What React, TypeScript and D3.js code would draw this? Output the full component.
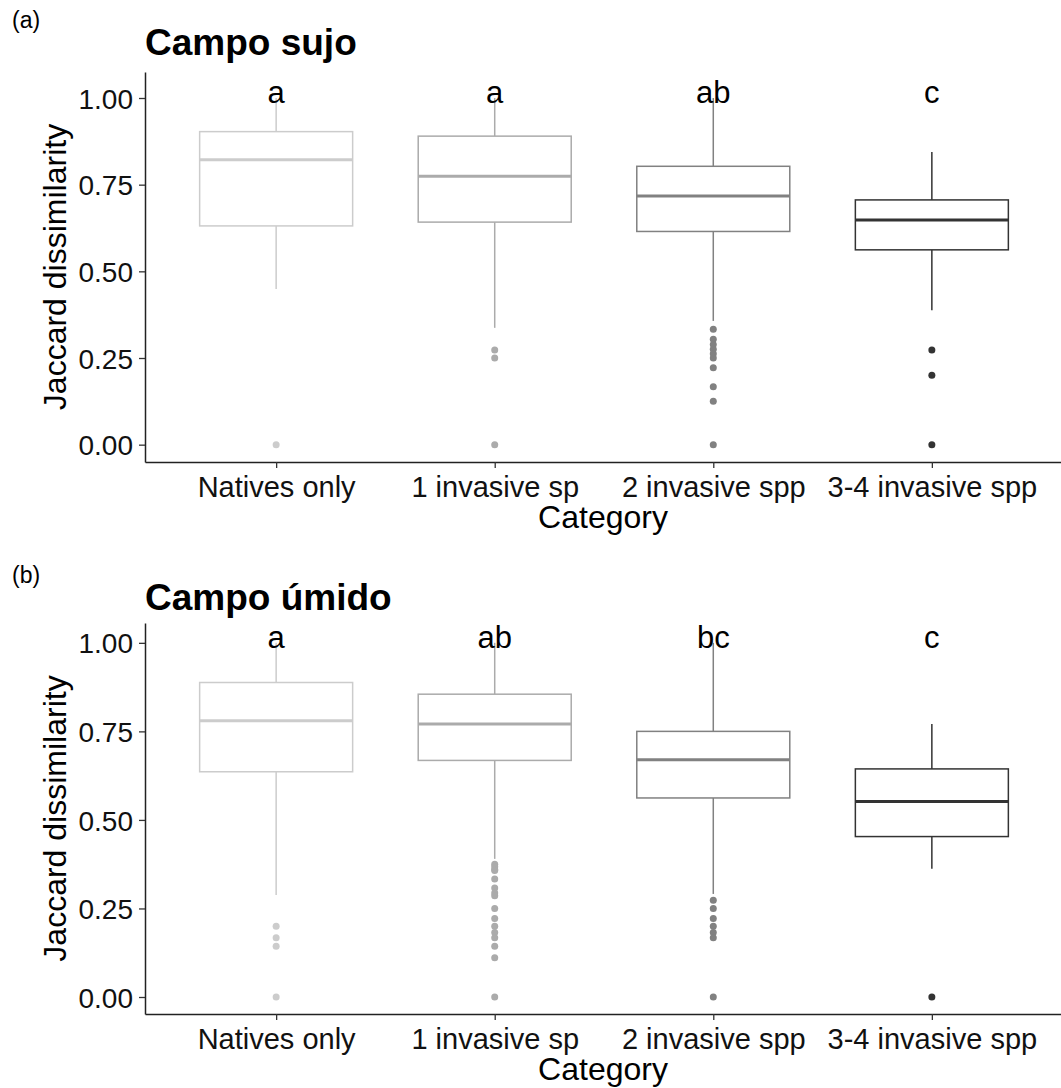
import React, { useEffect, useRef } from "react";
import * as d3 from "d3";

// categories and letters
const categories = ["Natives only", "1 invasive sp", "2 invasive spp", "3-4 invasive spp"];
const greys = ["#cccccc", "#ababab", "#818181", "#333333"];
const yTicks = [0, 0.25, 0.5, 0.75, 1];

// Campo sujo
const sujoLetters = ["a", "a", "ab", "c"];
const sujoLower = [0.449, 0.337, 0.357, 0.388];
const sujoQ1 = [0.631, 0.642, 0.615, 0.562];
const sujoMedian = [0.822, 0.774, 0.717, 0.648];
const sujoQ3 = [0.903, 0.89, 0.803, 0.706];
const sujoUpper = [1.0, 1.0, 1.0, 0.844];
const sujoOutliers = [
  [0],
  [0.273, 0.25, 0],
  [0.333, 0.304, 0.289, 0.275, 0.262, 0.25, 0.222, 0.167, 0.125, 0],
  [0.273, 0.2, 0],
];

// Campo úmido
const umidoLetters = ["a", "ab", "bc", "c"];
const umidoLower = [0.288, 0.39, 0.291, 0.362];
const umidoQ1 = [0.636, 0.668, 0.562, 0.453];
const umidoMedian = [0.78, 0.771, 0.67, 0.552];
const umidoQ3 = [0.888, 0.855, 0.75, 0.644];
const umidoUpper = [1.0, 1.0, 1.0, 0.771];
const umidoOutliers = [
  [0.2, 0.167, 0.143, 0],
  [0.375, 0.368, 0.36, 0.357, 0.333, 0.308, 0.294, 0.286, 0.25, 0.222, 0.2, 0.182, 0.167, 0.143, 0.111, 0],
  [0.273, 0.25, 0.222, 0.2, 0.182, 0.167, 0],
  [0],
];

const FONT = "'Liberation Sans', Arial, sans-serif";

function buildRows(lower, q1, med, q3, upper, outl, letters) {
  return categories.map((c, i) => ({
    cat: c,
    lower: lower[i],
    q1: q1[i],
    median: med[i],
    q3: q3[i],
    upper: upper[i],
    outliers: outl[i],
    letter: letters[i],
    color: greys[i],
  }));
}

const panels = [
  {
    tag: "(a)",
    title: "Campo sujo",
    top: 72,
    bottom: 462,
    yDomain: [-0.05, 1.075],
    tagY: 28,
    titleY: 55,
    rows: buildRows(sujoLower, sujoQ1, sujoMedian, sujoQ3, sujoUpper, sujoOutliers, sujoLetters),
  },
  {
    tag: "(b)",
    title: "Campo úmido",
    top: 623,
    bottom: 1014,
    yDomain: [-0.048, 1.056],
    tagY: 583,
    titleY: 610,
    rows: buildRows(umidoLower, umidoQ1, umidoMedian, umidoQ3, umidoUpper, umidoOutliers, umidoLetters),
  },
];

export default function App() {
  const ref = useRef(null);
  const width = 1061;
  const height = 1088;
  const left = 145;
  const right = 1063;

  useEffect(() => {
    const svg = d3.select(ref.current);
    svg.selectAll("*").remove();

    const x = d3.scalePoint().domain(categories).range([left, right]).padding(0.6);
    const boxW = x.step() * 0.7;

    panels.forEach((p) => {
      const g = svg.append("g");
      const y = d3.scaleLinear().domain(p.yDomain).range([p.bottom, p.top]);

      g.append("text").attr("x", 12).attr("y", p.tagY).attr("font-size", 23).text(p.tag);
      g.append("text")
        .attr("x", left)
        .attr("y", p.titleY)
        .attr("font-size", 37)
        .attr("font-weight", "bold")
        .text(p.title);

      // boxes
      const box = g.selectAll("g.box").data(p.rows).enter().append("g").attr("class", "box");
      box.append("line")
        .attr("x1", (d) => x(d.cat)).attr("x2", (d) => x(d.cat))
        .attr("y1", (d) => y(d.upper)).attr("y2", (d) => y(d.q3))
        .attr("stroke", (d) => d.color).attr("stroke-width", 1.5);
      box.append("line")
        .attr("x1", (d) => x(d.cat)).attr("x2", (d) => x(d.cat))
        .attr("y1", (d) => y(d.q1)).attr("y2", (d) => y(d.lower))
        .attr("stroke", (d) => d.color).attr("stroke-width", 1.5);
      box.append("rect")
        .attr("x", (d) => x(d.cat) - boxW / 2)
        .attr("width", boxW)
        .attr("y", (d) => y(d.q3))
        .attr("height", (d) => y(d.q1) - y(d.q3))
        .attr("fill", "white")
        .attr("stroke", (d) => d.color)
        .attr("stroke-width", 1.5);
      box.append("line")
        .attr("x1", (d) => x(d.cat) - boxW / 2).attr("x2", (d) => x(d.cat) + boxW / 2)
        .attr("y1", (d) => y(d.median)).attr("y2", (d) => y(d.median))
        .attr("stroke", (d) => d.color).attr("stroke-width", 3);
      box.selectAll("circle")
        .data((d) => d.outliers.map((v) => ({ v, cat: d.cat, color: d.color })))
        .enter()
        .append("circle")
        .attr("cx", (d) => x(d.cat))
        .attr("cy", (d) => y(d.v))
        .attr("r", 3.5)
        .attr("fill", (d) => d.color);

      // letters
      g.selectAll("text.letter").data(p.rows).enter().append("text")
        .attr("class", "letter")
        .attr("x", (d) => x(d.cat))
        .attr("y", y(1.02) + 12)
        .attr("text-anchor", "middle")
        .attr("font-size", 31)
        .text((d) => d.letter);

      // axes
      const ya = g.append("g").attr("transform", `translate(${left},0)`)
        .call(d3.axisLeft(y).tickValues(yTicks).tickFormat(d3.format(".2f")).tickSize(6).tickSizeOuter(0).tickPadding(6));
      const xa = g.append("g").attr("transform", `translate(0,${p.bottom})`)
        .call(d3.axisBottom(x).tickSize(6).tickSizeOuter(0).tickPadding(6));
      [ya, xa].forEach((a) => {
        a.select(".domain").attr("stroke", "#222").attr("stroke-width", 1.5);
        a.selectAll(".tick line").attr("stroke", "#333").attr("stroke-width", 1.3);
        a.selectAll("text").attr("fill", "#111").attr("font-family", FONT);
      });
      ya.selectAll("text").attr("font-size", 28).attr("dy", "0.36em");
      xa.selectAll("text").attr("font-size", 29).attr("dy", "0.78em");

      g.append("text")
        .attr("x", (left + right) / 2 - 1)
        .attr("y", p.bottom + 66)
        .attr("text-anchor", "middle")
        .attr("font-size", 32)
        .text("Category");
      g.append("text")
        .attr("transform", `translate(66,${(p.top + p.bottom) / 2}) rotate(-90)`)
        .attr("text-anchor", "middle")
        .attr("font-size", 32)
        .text("Jaccard dissimilarity");
    });
  }, []);

  return (
    <svg
      ref={ref}
      width={width}
      height={height}
      style={{ position: "absolute", left: 0, top: 0, background: "white" }}
      fontFamily={FONT}
    />
  );
}
